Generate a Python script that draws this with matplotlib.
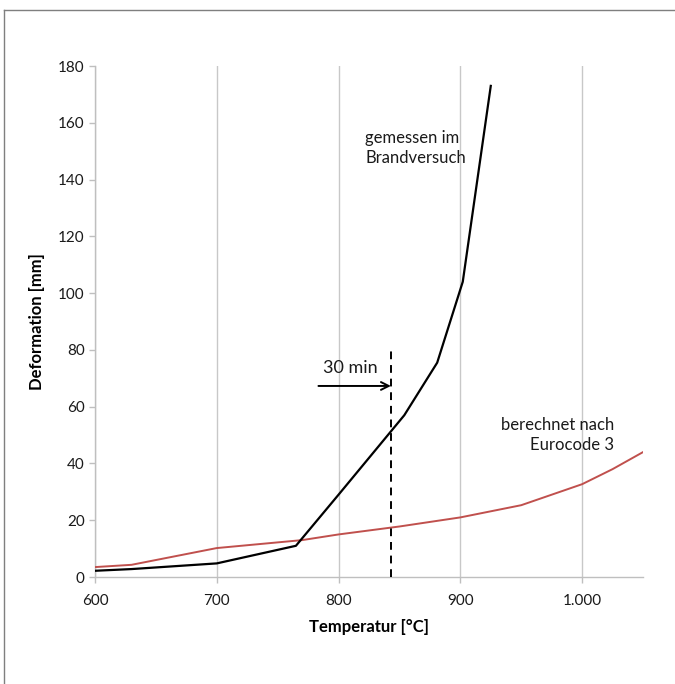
import matplotlib
matplotlib.use('Agg')
import matplotlib.pyplot as plt
from matplotlib.lines import Line2D

# Messung im Brandversuch
temp_mess = [600, 630, 700, 765, 800, 854, 881, 902, 925]
def_mess = [2.2, 2.8, 4.8, 11.0, 29.0, 57.0, 75.5, 104.0, 173.0]

# Berechnung nach Eurocode 3
temp_ec3 = [600, 630, 700, 770, 800, 850, 900, 950, 1000, 1025, 1050]
def_ec3 = [3.5, 4.3, 10.2, 13.0, 15.0, 17.8, 21.0, 25.3, 32.7, 38.0, 44.0]

x_ticks = [600, 700, 800, 900, 1000]
x_labels = ["600", "700", "800", "900", "1.000"]
y_ticks = [0, 20, 40, 60, 80, 100, 120, 140, 160, 180]

t_30min = 843
t_30min_top = 80

plt.rcParams['font.family'] = ['Lato', 'DejaVu Sans']

fig = plt.figure(figsize=(6.75, 6.84), dpi=100)
ax = fig.add_axes([0.1407, 0.1564, 0.8119, 0.7471])

# Rahmen um die Grafik (links und oben sichtbar)
fig.add_artist(Line2D([4 / 675, 4 / 675], [0, 1 - 10 / 684], transform=fig.transFigure,
                      color='#7f7f7f', lw=1))
fig.add_artist(Line2D([4 / 675, 1], [1 - 10 / 684, 1 - 10 / 684], transform=fig.transFigure,
                      color='#7f7f7f', lw=1))

ax.plot(temp_ec3, def_ec3, color='#c0504d', lw=1.4, zorder=3)
ax.plot(temp_mess, def_mess, color='black', lw=1.6, zorder=4)

ax.plot([t_30min, t_30min], [0, t_30min_top], color='black', lw=1.4,
        linestyle=(0, (4, 3)), zorder=5)
ax.annotate("", xy=(t_30min, 67.3), xytext=(783.5, 67.3),
            arrowprops=dict(arrowstyle='->', color='black', lw=1.4,
                            shrinkA=0, shrinkB=0, mutation_scale=14))
ax.text(810, 73.5, "30 min", ha='center', va='center', fontsize=13, color='#1a1a1a')

ax.text(822, 151, "gemessen im\nBrandversuch", ha='left', va='center',
        fontsize=12, linespacing=1.3, color='#1a1a1a')
ax.text(1026, 50, "berechnet nach\nEurocode 3", ha='right', va='center',
        fontsize=12, linespacing=1.3, color='#1a1a1a')

ax.set_xlim(600, 1050)
ax.set_ylim(0, 180)
ax.set_xticks(x_ticks)
ax.set_xticklabels(x_labels)
ax.set_yticks(y_ticks)
ax.grid(axis='x', color='#c8c8c8', lw=1)
ax.set_axisbelow(True)

for side in ['top', 'right']:
    ax.spines[side].set_visible(False)
for side in ['left', 'bottom']:
    ax.spines[side].set_color('#bfbfbf')
    ax.spines[side].set_linewidth(1)

ax.tick_params(axis='both', labelsize=11, colors='#bfbfbf', labelcolor='#1a1a1a',
               length=4, width=1)
ax.tick_params(axis='x', pad=8)

ax.set_xlabel("Temperatur [°C]", fontsize=12, fontweight='bold', labelpad=8)
ax.set_ylabel("Deformation [mm]", fontsize=12, fontweight='bold', labelpad=9)

fig.savefig("out.png", dpi=100)
